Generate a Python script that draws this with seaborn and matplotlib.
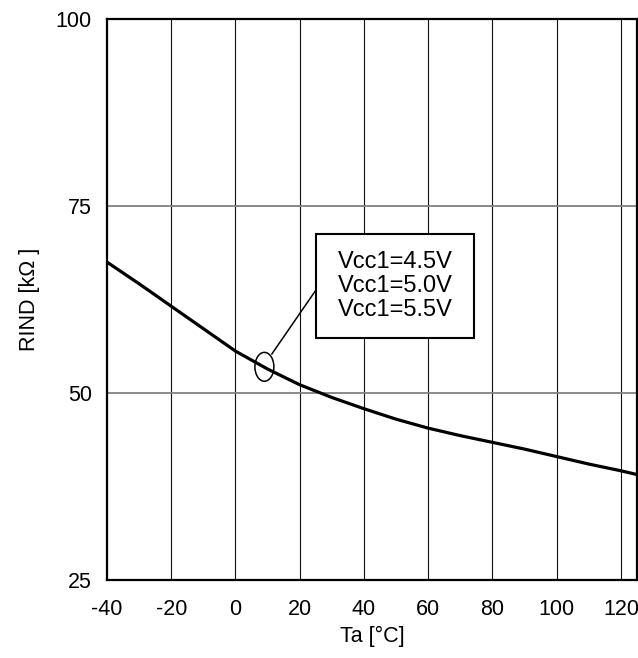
import matplotlib
matplotlib.use("Agg")
import matplotlib.pyplot as plt
from matplotlib.patches import Ellipse, Rectangle
import seaborn as sns
import pandas as pd

temperature = [-40, -30, -20, -10, 0, 10, 20, 30, 40, 50, 60, 70, 80, 90, 100, 110, 120, 125]
rind = [67.5, 64.6, 61.6, 58.6, 55.6, 53.2, 51.1, 49.4, 47.9, 46.5, 45.3, 44.3, 43.4, 42.5, 41.5, 40.5, 39.6, 39.1]
x_ticks = [-40, -20, 0, 20, 40, 60, 80, 100, 120]
y_ticks = [25, 50, 75, 100]
legend_lines = ["Vcc1=4.5V", "Vcc1=5.0V", "Vcc1=5.5V"]

sns.set_style("white")
plt.rcParams['font.family'] = ['Liberation Sans', 'DejaVu Sans']
plt.rcParams['axes.unicode_minus'] = False
plt.rcParams['text.color'] = 'black'
plt.rcParams['axes.labelcolor'] = 'black'

df = pd.DataFrame({"Ta": temperature, "RIND": rind})

fig = plt.figure(figsize=(6.38, 6.58), dpi=100)
ax = fig.add_axes([107/638, 1-580/658, (637-107)/638, (580-19)/658])

# grid
for xv in range(-20, 121, 20):
    ax.axvline(xv, color='#111111', lw=0.8, zorder=1)
for yv in [50, 75]:
    ax.axhline(yv, color='#808080', lw=1.3, zorder=1)

sns.lineplot(data=df, x="Ta", y="RIND", ax=ax, color='black', lw=2.3, zorder=3)

ax.set_xlim(-40, 125)
ax.set_ylim(25, 100)
ax.set_xticks(x_ticks)
ax.set_yticks(y_ticks)
ax.tick_params(axis='both', length=0, labelsize=15.5, colors='black')
ax.tick_params(axis='y', pad=11)
ax.tick_params(axis='x', pad=14)
ax.set_xlabel("Ta [°C]", fontsize=15.5, labelpad=4, color='black')
ax.set_ylabel("RIND [kΩ ]", fontsize=15.5, labelpad=11, color='black')
for s in ax.spines.values():
    s.set_color('black')
    s.set_linewidth(1.6)
    s.set_zorder(5)

# annotation ellipse, leader and box
ax.add_patch(Ellipse((9.0, 53.5), 5.9, 3.86, fill=False, ec='black', lw=1.1, zorder=4))
ax.plot([11.3, 25.1], [55.2, 63.8], color='black', lw=1.1, zorder=4)
ax.add_patch(Rectangle((25.1, 57.3), 74.3-25.1, 71.3-57.3, facecolor='white',
                       edgecolor='black', lw=1.5, zorder=4))
ax.text(49.7, 64.3, "\n".join(legend_lines), ha='center', va='center',
        fontsize=17, linespacing=1.1, color='black', zorder=6)

fig.savefig("out.png", dpi=100)
